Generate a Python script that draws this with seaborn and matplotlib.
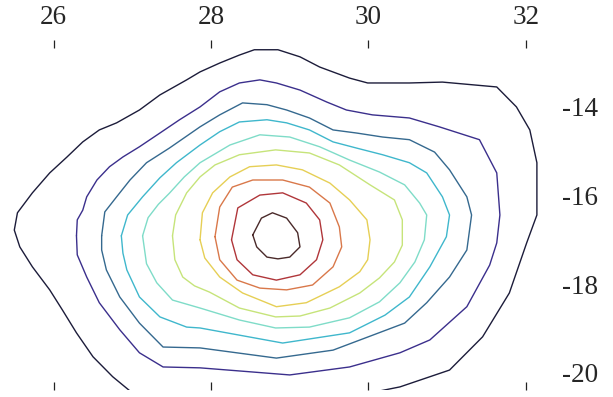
import matplotlib
matplotlib.use("Agg")
import matplotlib.pyplot as plt
import seaborn as sns

# ---- traced contour lines (data units), outermost level 1 -> innermost level 10 ----
c1_x = [27.03, 26.75, 26.50, 26.29, 26.11, 25.95, 25.73, 25.57, 25.50, 25.54, 25.73, 25.95, 26.17, 26.37,
        26.58, 26.80, 27.09, 27.35, 27.69, 27.86, 28.11, 28.36, 28.55, 28.85, 29.13, 29.38, 29.76, 29.99,
        30.52, 30.94, 31.63, 31.88, 32.05, 32.14, 32.14, 32.01, 31.79, 31.45, 31.03, 30.40, 29.95]
c1_y = [-20.50, -20.09, -19.64, -19.10, -18.58, -18.13, -17.61, -17.16, -16.78, -16.39, -15.94, -15.49, -15.13, -14.79,
        -14.52, -14.36, -14.07, -13.73, -13.39, -13.21, -13.01, -12.83, -12.71, -12.71, -12.87, -13.10, -13.35, -13.46,
        -13.46, -13.44, -13.55, -14.00, -14.52, -15.26, -16.44, -17.07, -18.20, -19.19, -19.94, -20.32, -20.48]

c2_x = [26.29, 26.30, 26.37, 26.42, 26.55, 26.71, 26.88, 27.09, 27.35, 27.60, 27.86, 28.11, 28.36, 28.62, 28.83,
        29.13, 29.47, 29.72, 30.05, 30.52, 30.90, 31.41, 31.63, 31.67, 31.63, 31.54, 31.25, 30.78, 30.40, 29.76,
        29.00, 27.86, 27.39, 27.09, 26.84, 26.58, 26.42, 26.30]
c2_y = [-16.91, -16.55, -16.33, -16.03, -15.65, -15.35, -15.13, -14.90, -14.59, -14.29, -14.00, -13.66, -13.46, -13.39, -13.46,
        -13.62, -13.89, -14.07, -14.18, -14.25, -14.45, -14.74, -15.49, -16.44, -17.07, -17.57, -18.51, -19.26, -19.55, -19.87,
        -20.05, -19.89, -19.87, -19.55, -19.03, -18.42, -17.84, -17.34]

c3_x = [26.61, 26.65, 26.80, 26.97, 27.18, 27.47, 27.86, 28.11, 28.40, 28.71, 28.96, 29.25, 29.55, 29.85, 30.18,
        30.52, 30.84, 31.03, 31.25, 31.31, 31.25, 31.03, 30.74, 30.46, 29.55, 28.83, 27.86, 27.39, 27.09, 26.84,
        26.67, 26.61]
c3_y = [-16.91, -16.37, -16.03, -15.65, -15.26, -14.93, -14.45, -14.18, -13.91, -13.95, -14.07, -14.25, -14.52, -14.59, -14.68,
        -14.74, -15.02, -15.42, -16.03, -16.44, -17.23, -17.84, -18.42, -18.88, -19.49, -19.67, -19.44, -19.42, -18.88, -18.29,
        -17.68, -17.23]

c4_x = [26.86, 26.94, 27.13, 27.35, 27.56, 27.86, 28.11, 28.36, 28.71, 28.96, 29.25, 29.55, 29.85, 30.18, 30.52,
        30.74, 30.94, 31.03, 30.99, 30.78, 30.52, 30.21, 29.76, 28.91, 27.86, 27.69, 27.35, 27.09, 26.93, 26.88]
c4_y = [-16.91, -16.44, -16.03, -15.60, -15.26, -14.86, -14.56, -14.34, -14.29, -14.36, -14.52, -14.79, -14.93, -15.08, -15.26,
        -15.49, -16.03, -16.44, -16.93, -17.61, -18.29, -18.70, -19.10, -19.33, -18.99, -18.97, -18.74, -18.29, -17.68, -17.30]

c5_x = [27.13, 27.20, 27.33, 27.47, 27.66, 27.86, 28.24, 28.62, 29.00, 29.38, 29.76, 30.14, 30.46, 30.65, 30.74,
        30.71, 30.59, 30.40, 30.14, 29.76, 29.25, 28.82, 28.36, 27.86, 27.51, 27.31, 27.18]
c5_y = [-16.91, -16.50, -16.20, -15.95, -15.58, -15.26, -14.86, -14.63, -14.68, -14.90, -15.20, -15.47, -15.76, -16.17, -16.44,
        -17.00, -17.50, -17.97, -18.40, -18.76, -18.97, -18.99, -18.81, -18.54, -18.36, -17.97, -17.54]

c6_x = [27.51, 27.55, 27.69, 27.86, 28.05, 28.36, 28.82, 29.25, 29.63, 30.02, 30.33, 30.43, 30.43, 30.33, 30.14,
        29.89, 29.51, 29.13, 28.82, 28.36, 27.98, 27.79, 27.64, 27.54]
c6_y = [-16.91, -16.44, -15.94, -15.58, -15.31, -15.08, -14.97, -15.04, -15.31, -15.76, -16.10, -16.55, -17.12, -17.50, -17.86,
        -18.20, -18.54, -18.72, -18.74, -18.54, -18.18, -18.04, -17.84, -17.45]

c7_x = [27.86, 27.89, 28.02, 28.24, 28.49, 28.83, 29.16, 29.51, 29.76, 29.98, 30.02, 29.99, 29.89, 29.63, 29.21,
        28.83, 28.40, 28.11, 27.92]
c7_y = [-17.00, -16.39, -15.94, -15.58, -15.35, -15.31, -15.42, -15.72, -16.10, -16.55, -17.00, -17.45, -17.72, -18.06, -18.42,
        -18.51, -18.20, -17.84, -17.41]

c8_x = [28.05, 28.11, 28.27, 28.53, 28.91, 29.25, 29.51, 29.63, 29.66, 29.55, 29.29, 28.96, 28.62, 28.33, 28.11]
c8_y = [-16.93, -16.26, -15.81, -15.65, -15.65, -15.81, -16.17, -16.71, -17.16, -17.61, -18.02, -18.13, -18.09, -17.91, -17.45]

c9_x = [28.26, 28.34, 28.62, 28.91, 29.21, 29.38, 29.42, 29.34, 29.13, 28.83, 28.53, 28.33]
c9_y = [-17.00, -16.28, -15.99, -15.94, -16.17, -16.55, -17.00, -17.45, -17.79, -17.91, -17.79, -17.45]

c10_x = [28.53, 28.64, 28.78, 28.96, 29.10, 29.13, 29.00, 28.85, 28.71, 28.58]
c10_y = [-16.89, -16.51, -16.39, -16.51, -16.84, -17.16, -17.39, -17.43, -17.39, -17.16]

x_ticks = [26, 28, 30, 32]
y_ticks = [-14, -16, -18, -20]

# ---- styling ----
sns.set_theme(style="white")
plt.rcParams["font.family"] = ["Liberation Serif", "DejaVu Serif"]
plt.rcParams["axes.unicode_minus"] = False

line_colors = ["#1c1c3a", "#3b2f8c", "#35698f", "#3fb7cc", "#7fdcc8",
               "#c6e47a", "#e6cf55", "#d9784a", "#b0363a", "#4a2a2a"]

fig = plt.figure(figsize=(6.13, 3.97), dpi=100)
ax = fig.add_axes([8 / 613, 1 - 390 / 397, (555 - 8) / 613, (390 - 40) / 397])

closed_lines = [(c2_x, c2_y), (c3_x, c3_y), (c4_x, c4_y), (c5_x, c5_y), (c6_x, c6_y),
                (c7_x, c7_y), (c8_x, c8_y), (c9_x, c9_y), (c10_x, c10_y)]

sns.lineplot(x=c1_x, y=c1_y, sort=False, estimator=None, color=line_colors[0], lw=1.0, ax=ax)
for i, (xs, ys) in enumerate(closed_lines, start=1):
    sns.lineplot(x=list(xs) + [xs[0]], y=list(ys) + [ys[0]], sort=False, estimator=None,
                 color=line_colors[i], lw=1.0, ax=ax)

ax.set_xlim(25.42, 32.37)
ax.set_ylim(-20.39, -12.49)
for s in ax.spines.values():
    s.set_visible(False)

ax.set_xticks(x_ticks)
ax.set_xticklabels([str(v) for v in x_ticks])
ax.set_yticks(y_ticks)
ax.set_yticklabels([str(v) for v in y_ticks])
ax.tick_params(axis="x", which="both", top=True, bottom=True, labeltop=True, labelbottom=False,
               direction="in", length=6, width=0.9, color="#222222", pad=7, labelsize=19.5)
ax.tick_params(axis="y", which="both", left=False, right=False, labelleft=False, labelright=True,
               length=0, pad=5, labelsize=19.5)
ax.set_xlabel("")
ax.set_ylabel("")

fig.savefig("out.png", dpi=100)
